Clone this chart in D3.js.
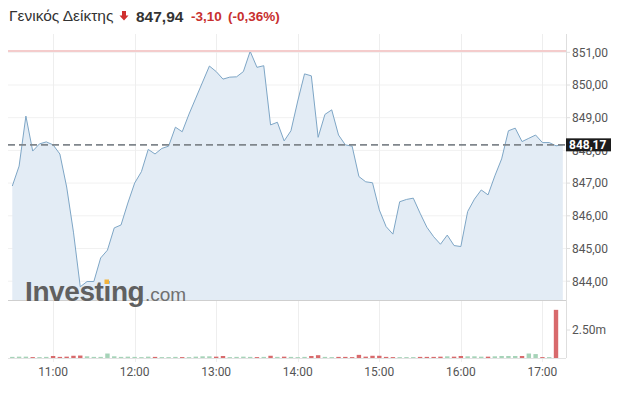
<!DOCTYPE html>
<html><head><meta charset="utf-8">
<script src="https://cdn.jsdelivr.net/npm/d3@7"></script>
<style>html,body{margin:0;padding:0;background:#fff;}svg{display:block;}</style>
</head><body>
<svg id="c" width="620" height="401"></svg>
<script>
const times = ["10:30","10:35","10:40","10:45","10:50","10:55","11:00","11:05","11:10","11:15","11:20","11:25",
"11:30","11:35","11:40","11:45","11:50","11:55","12:00","12:05","12:10","12:15","12:20","12:25",
"12:30","12:35","12:40","12:45","12:50","12:55","13:00","13:05","13:10","13:15","13:20","13:25",
"13:30","13:35","13:40","13:45","13:50","13:55","14:00","14:05","14:10","14:15","14:20","14:25",
"14:30","14:35","14:40","14:45","14:50","14:55","15:00","15:05","15:10","15:15","15:20","15:25",
"15:30","15:35","15:40","15:45","15:50","15:55","16:00","16:05","16:10","16:15","16:20","16:25",
"16:30","16:35","16:40","16:45","16:50","16:55","17:00","17:05","17:10","17:15"];
const prices = [846.91,847.52,849.05,847.98,848.20,848.26,848.17,847.89,846.88,845.50,843.83,843.99,
843.99,844.71,844.95,845.63,845.72,846.39,847.00,847.35,848.03,847.89,848.06,848.13,
848.71,848.57,849.11,849.60,850.09,850.58,850.41,850.18,850.24,850.25,850.41,851.03,
850.54,850.59,848.78,848.86,848.29,848.60,849.51,850.34,850.28,848.40,849.10,849.24,
848.47,848.17,848.13,847.20,847.04,847.01,846.18,845.67,845.44,846.43,846.50,846.54,
846.08,845.65,845.36,845.13,845.41,845.09,845.06,846.13,846.51,846.79,846.64,847.22,
847.74,848.60,848.68,848.27,848.37,848.47,848.24,848.24,848.14,848.17];
const volumes = [0.10,0.12,0.12,0.08,0.08,0.10,0.18,0.10,0.12,0.20,0.22,0.15,
0.10,0.10,0.40,0.15,0.10,0.12,0.10,0.08,0.12,0.10,0.08,0.08,
0.10,0.08,0.08,0.12,0.15,0.15,0.12,0.18,0.08,0.10,0.12,0.10,
0.08,0.10,0.20,0.10,0.12,0.10,0.08,0.10,0.18,0.25,0.10,0.08,
0.10,0.10,0.08,0.28,0.12,0.20,0.20,0.10,0.08,0.08,0.08,0.08,
0.10,0.10,0.10,0.12,0.15,0.12,0.18,0.15,0.15,0.12,0.12,0.15,
0.18,0.18,0.18,0.18,0.40,0.35,0.08,0.08,4.30,0];
const priceTicks = [844,845,846,847,848,849,850,851];
const volumeTicks = [2.5];
const hourTicks = ["11:00","12:00","13:00","14:00","15:00","16:00","17:00"];
const prevClose = 851.04;
const lastPrice = 848.17;
const title = "Γενικός Δείκτης";
const quote = "847,94";
const change = "-3,10";
const changePct = "(-0,36%)";

const svg = d3.select("#c");
const parse = s => { const [h,m] = s.split(":").map(Number); return new Date(2024,0,2,h,m); };
const fmt = v => d3.format(".2f")(v).replace(".", ",");

const L = 8, R = 566, T = 34, B = 300, VB = 358;
const x = d3.scaleTime().domain([parse("10:30"), parse("17:15")]).range([12.3, 562.8]);
const y = d3.scaleLinear().domain([844, 851]).range([281.2, 52.3]);
const yv = d3.scaleLinear().domain([0, 2.5]).range([VB, 330]);

const data = times.map((t,i)=>({t:parse(t), p:prices[i], v:volumes[i], up: i===0 || prices[i] >= prices[i-1]}));

// grid
svg.append("g").selectAll("line").data(priceTicks).join("line")
  .attr("x1", L).attr("x2", R).attr("y1", d=>y(d)).attr("y2", d=>y(d))
  .attr("stroke", "#f1f1f1").attr("stroke-width", 1);
svg.append("g").selectAll("line").data(hourTicks).join("line")
  .attr("x1", d=>Math.round(x(parse(d)))+0.5).attr("x2", d=>Math.round(x(parse(d)))+0.5)
  .attr("y1", T).attr("y2", VB+4)
  .attr("stroke", "#eeeeee").attr("stroke-width", 1);

// area + line
const area = d3.area().x(d=>x(d.t)).y0(B).y1(d=>y(d.p));
const line = d3.line().x(d=>x(d.t)).y(d=>y(d.p));
svg.append("path").datum(data).attr("d", area).attr("fill", "#e3ecf5");
svg.append("path").datum(data).attr("d", line).attr("fill", "none")
  .attr("stroke", "#7ea6c6").attr("stroke-width", 1);

// previous close line
svg.append("line").attr("x1", L).attr("x2", R).attr("y1", y(prevClose)).attr("y2", y(prevClose))
  .attr("stroke", "#f4cccc").attr("stroke-width", 2);

// volume bars
svg.append("g").selectAll("rect").data(data.filter(d=>d.v>0)).join("rect")
  .attr("x", d=>x(d.t)-2.2).attr("width", 4.4)
  .attr("y", d=>yv(d.v)).attr("height", d=>VB - yv(d.v))
  .attr("fill", d=>d.up ? "#a6d3b8" : "#d86a6c");

// panel borders
svg.append("line").attr("x1", L).attr("x2", R).attr("y1", B+0.5).attr("y2", B+0.5).attr("stroke", "#cfcfcf");
svg.append("line").attr("x1", L).attr("x2", R).attr("y1", VB+0.5).attr("y2", VB+0.5).attr("stroke", "#e2e2e2");
svg.append("line").attr("x1", R+0.5).attr("x2", R+0.5).attr("y1", T).attr("y2", VB).attr("stroke", "#dedede");

// last price dashed line
svg.append("line").attr("x1", L).attr("x2", R).attr("y1", y(lastPrice)).attr("y2", y(lastPrice))
  .attr("stroke", "#80868c").attr("stroke-width", 1.6).attr("stroke-dasharray", "7,4");

// y axis labels
const ya = svg.append("g").attr("font-family", "Roboto, sans-serif").attr("font-size", 12).attr("fill", "#555");
ya.selectAll("line").data(priceTicks).join("line")
  .attr("x1", R).attr("x2", R+4).attr("y1", d=>y(d)).attr("y2", d=>y(d)).attr("stroke", "#dedede");
ya.selectAll("text").data(priceTicks).join("text")
  .attr("x", 572).attr("y", d=>y(d)).attr("dy", "0.36em").text(d=>fmt(d));
svg.append("g").selectAll("text").data(volumeTicks).join("text")
  .attr("x", 572).attr("y", d=>yv(d)).attr("dy", "0.36em")
  .attr("font-family", "Roboto, sans-serif").attr("font-size", 12).attr("fill", "#555")
  .text(d=>d3.format(".2f")(d)+"m");
svg.append("g").selectAll("line").data(volumeTicks).join("line")
  .attr("x1", R).attr("x2", R+4).attr("y1", d=>yv(d)).attr("y2", d=>yv(d)).attr("stroke", "#dedede");

// last price tag
const tag = svg.append("g");
tag.append("rect").attr("x", R).attr("y", y(lastPrice)-6.5).attr("width", 45).attr("height", 13).attr("fill", "#1c1c1c");
tag.append("text").attr("x", R+3).attr("y", y(lastPrice)).attr("dy", "0.36em")
  .attr("font-family", "Roboto, sans-serif").attr("font-weight", "bold").attr("font-size", 12).attr("fill", "#fff")
  .text(fmt(lastPrice));

// x axis labels
svg.append("g").selectAll("text").data(hourTicks).join("text")
  .attr("x", d=>x(parse(d))).attr("y", 376).attr("text-anchor", "middle")
  .attr("font-family", "Roboto, sans-serif").attr("font-size", 12).attr("fill", "#555")
  .text(d=>d);

// watermark
const wm = svg.append("g");
wm.append("text").attr("x", 25).attr("y", 301).attr("font-family", "Liberation Sans, Arial, sans-serif")
  .attr("font-weight", "bold").attr("font-size", 28).attr("letter-spacing", -0.4).attr("fill", "#606060").text("Investing");
wm.append("text").attr("x", 145).attr("y", 301).attr("font-family", "Liberation Sans, Arial, sans-serif")
  .attr("font-size", 19).attr("fill", "#707070").text(".com");
wm.append("rect").attr("x", 104.5).attr("y", 279.5).attr("width", 4.5).attr("height", 4.5).attr("fill", "#f2b33d");

// title
const hd = svg.append("g").attr("font-family", "Liberation Sans, Arial, sans-serif");
hd.append("text").attr("x", 9).attr("y", 21).attr("font-size", 15.5).attr("fill", "#333").text(title);
hd.append("path").attr("d", "M122,11 h4 v4.5 h2.5 l-4.5,5 l-4.5,-5 h2.5 z").attr("fill", "#d0302f");
hd.append("text").attr("x", 136).attr("y", 21.5).attr("font-size", 15.5).attr("font-weight", "bold").attr("fill", "#333").text(quote);
hd.append("text").attr("x", 191).attr("y", 21).attr("font-size", 13.5).attr("font-weight", "bold").attr("fill", "#c8302f").text(change);
hd.append("text").attr("x", 228).attr("y", 21).attr("font-size", 13.5).attr("font-weight", "bold").attr("fill", "#c8302f").text(changePct);
</script>
</body></html>
